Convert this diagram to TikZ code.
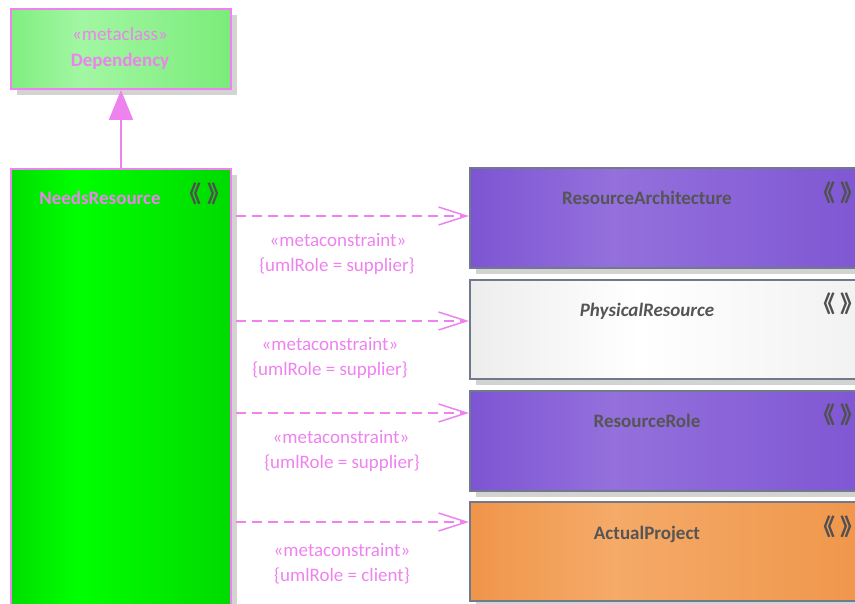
\documentclass[tikz,border=0pt]{standalone}
\usepackage{fontspec}
\setmainfont{Carlito}
\newfontfamily\cjk{Noto Sans CJK JP}
\usetikzlibrary{arrows.meta,shadows}
\definecolor{pinkc}{HTML}{EE82EE}
\definecolor{txtgray}{HTML}{555555}
\definecolor{icongray}{HTML}{505050}
\definecolor{bordgray}{HTML}{707A8A}
\definecolor{shadowc}{HTML}{D3D3D3}
\definecolor{depA}{HTML}{80EE80}
\definecolor{depB}{HTML}{A2F7A2}
\definecolor{depC}{HTML}{7AEC7A}
\definecolor{grA}{HTML}{00DE00}
\definecolor{grB}{HTML}{00FF00}
\definecolor{grC}{HTML}{00DA00}
\definecolor{puA}{HTML}{7D55D3}
\definecolor{puB}{HTML}{9470DC}
\definecolor{puC}{HTML}{7C54D2}
\definecolor{whA}{HTML}{EDEDED}
\definecolor{whB}{HTML}{FFFFFF}
\definecolor{whC}{HTML}{F0F0F0}
\definecolor{orA}{HTML}{F0954A}
\definecolor{orB}{HTML}{F5AA68}
\definecolor{orC}{HTML}{EF9448}
\pgfdeclarehorizontalshading{depsh}{100bp}{color(0bp)=(depA); color(25bp)=(depA); color(41bp)=(depB); color(75bp)=(depC); color(100bp)=(depC)}
\pgfdeclarehorizontalshading{grsh}{100bp}{color(0bp)=(grA); color(25bp)=(grA); color(40bp)=(grB); color(75bp)=(grC); color(100bp)=(grC)}
\pgfdeclarehorizontalshading{push}{100bp}{color(0bp)=(puA); color(25bp)=(puA); color(42bp)=(puB); color(75bp)=(puC); color(100bp)=(puC)}
\pgfdeclarehorizontalshading{whsh}{100bp}{color(0bp)=(whA); color(25bp)=(whA); color(45bp)=(whB); color(75bp)=(whC); color(100bp)=(whC)}
\pgfdeclarehorizontalshading{orsh}{100bp}{color(0bp)=(orA); color(25bp)=(orA); color(42bp)=(orB); color(75bp)=(orC); color(100bp)=(orC)}
\tikzset{
  box/.style={rectangle, anchor=north west, line width=2pt, inner sep=0pt,
    drop shadow={shadow xshift=6pt, shadow yshift=-6pt, fill=shadowc, opacity=1}},
  leftbox/.style={box, draw=pinkc, minimum width=220pt},
  rightbox/.style={box, draw=bordgray, minimum width=420pt},
  title/.style={anchor=base, font=\bfseries\fontsize{19}{22}\selectfont, text=txtgray},
  lbl/.style={anchor=base, font=\fontsize{19}{22}\selectfont, text=pinkc},
  icon/.style={font=\cjk\bfseries\fontsize{23}{23}\selectfont, text=icongray, inner sep=0pt},
  dep/.style={pinkc, line width=1.5pt, dash pattern=on 10pt off 6pt,
    -{Straight Barb[length=28pt, width=18pt, line width=1.5pt]}},
}
\newcommand{\stereoicon}{\kern-0.45em《\kern0.22em》\kern-0.45em}
\begin{document}
\begin{tikzpicture}[x=1pt,y=-1pt]
\useasboundingbox (0,0) rectangle (855,604);
\clip (0,0) rectangle (855,604);
% left boxes
\node[leftbox, shading=depsh, shading angle=0, minimum height=80pt] (depbox) at (10,8) {};
\node[leftbox, shading=grsh, shading angle=0, minimum height=470pt] (needs) at (10,168) {};
\node[lbl] (depst) at (120,41) {«metaclass»};
\node[lbl, font=\bfseries\fontsize{19}{22}\selectfont] (depname) at (120,67) {Dependency};
\node[lbl, font=\bfseries\fontsize{19}{22}\selectfont] (needsname) at (100,205) {NeedsResource};
\node[icon] (needsicon) at (204.5,193.5) {\stereoicon};
% right boxes
\node[rightbox, shading=push, shading angle=0, minimum height=100pt] (ra) at (469,167) {};
\node[rightbox, shading=whsh, shading angle=0, minimum height=99pt] (pr) at (469,279) {};
\node[rightbox, shading=push, shading angle=0, minimum height=100pt] (rr) at (469,390) {};
\node[rightbox, shading=orsh, shading angle=0, minimum height=99pt] (ap) at (469,501) {};
\node[title] (raname) at (647,205) {ResourceArchitecture};
\node[title, font=\bfseries\itshape\fontsize{19}{22}\selectfont] (prname) at (647,317) {PhysicalResource};
\node[title] (rrname) at (647,428) {ResourceRole};
\node[title] (apname) at (647,539) {ActualProject};
\node[icon] (raicon) at (838,193) {\stereoicon};
\node[icon] (pricon) at (838,304) {\stereoicon};
\node[icon] (rricon) at (838,415) {\stereoicon};
\node[icon] (apicon) at (838,527) {\stereoicon};
% generalization
\draw[pinkc, line width=2pt, -{Triangle[length=30pt, width=24pt]}] (needs.north) -- (depbox.south);
% dependencies
\coordinate (s1) at (236,216);
\coordinate (s2) at (236,321);
\coordinate (s3) at (236,413);
\coordinate (s4) at (236,522);
\draw[dep] (s1) -- (s1 -| ra.west);
\draw[dep] (s2) -- (s2 -| pr.west);
\draw[dep] (s3) -- (s3 -| rr.west);
\draw[dep] (s4) -- (s4 -| ap.west);
\node[lbl] (l1a) at (338,247) {«metaconstraint»};
\node[lbl] (l1b) at (337,272) {\{umlRole = supplier\}};
\node[lbl] (l2a) at (330,351) {«metaconstraint»};
\node[lbl] (l2b) at (330,376) {\{umlRole = supplier\}};
\node[lbl] (l3a) at (341,443) {«metaconstraint»};
\node[lbl] (l3b) at (342,468) {\{umlRole = supplier\}};
\node[lbl] (l4a) at (342,556) {«metaconstraint»};
\node[lbl] (l4b) at (342,581) {\{umlRole = client\}};
\end{tikzpicture}
\end{document}
